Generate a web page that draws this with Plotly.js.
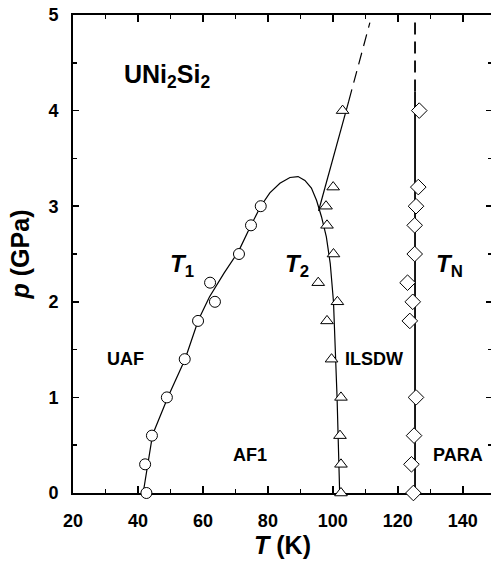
<!DOCTYPE html>
<html>
<head>
<meta charset="utf-8">
<script src="https://cdn.plot.ly/plotly-3.0.1.min.js"></script>
<style>html,body{margin:0;padding:0;overflow:hidden;background:#fff}</style>
</head>
<body>
<div id="chart" style="width:493px;height:570px"></div>
<script>
// T1 data (circles)
const t1T = [42.6, 42.2, 44.3, 48.9, 54.4, 58.5, 62.2, 63.7, 71.1, 74.8, 77.8];
const t1P = [0, 0.3, 0.6, 1.0, 1.4, 1.8, 2.2, 2.0, 2.5, 2.8, 3.0];
// T2 data (triangles)
const t2T = [102.5, 102.5, 102.2, 102.5, 99.6, 98.2, 101.4, 95.5, 100.2, 98.2, 97.9, 100.1, 103.0];
const t2P = [0, 0.3, 0.6, 1.0, 1.4, 1.8, 2.0, 2.2, 2.5, 2.8, 3.0, 3.2, 4.0];
// TN data (diamonds)
const tnT = [124.8, 124.2, 125.0, 125.6, 123.7, 124.6, 123.0, 125.2, 125.2, 125.6, 126.3, 126.6];
const tnP = [0, 0.3, 0.6, 1.0, 1.8, 2.0, 2.2, 2.5, 2.8, 3.0, 3.2, 4.0];
// Phase boundary curve T1 -> T2 (solid)
const curveT = [41.6, 44.5, 49.3, 54.5, 58.6, 62.0, 66.5, 71.0, 74.8, 77.8, 80.6, 83.7, 86.8, 89.3, 91.4, 93.4, 95.0, 96.5, 98.0, 99.2, 100.2, 100.8, 101.3, 101.7, 102.1];
const curveP = [0, 0.61, 1.01, 1.40, 1.81, 2.05, 2.3, 2.53, 2.8, 3.0, 3.14, 3.24, 3.3, 3.31, 3.27, 3.19, 3.06, 2.89, 2.68, 2.4, 2.0, 1.5, 1.0, 0.5, 0];
// Upper T2 line (solid part and dashed extrapolation)
const t2LineT = [95.6, 104.9];
const t2LineP = [2.95, 4.1];
const t2DashT = [104.9, 111.4];
const t2DashP = [4.1, 4.92];
// TN line (solid part and dashed extrapolation)
const tnLineT = [125.3, 125.3];
const tnLineP = [0, 4.2];
const tnDashT = [125.3, 125.3];
const tnDashP = [4.2, 4.93];
const xTicks = [20, 40, 60, 80, 100, 120, 140];
const yTicks = [0, 1, 2, 3, 4, 5];

const FONT = 'Liberation Sans, Arial, Helvetica, sans-serif';
const lineStyle = {color: '#000', width: 1.2};
const dashStyle = {color: '#000', width: 1.2, dash: '12px,7px'};

const traces = [
  {x: curveT, y: curveP, mode: 'lines', line: lineStyle, hoverinfo: 'skip', showlegend: false},
  {x: t2LineT, y: t2LineP, mode: 'lines', line: lineStyle, showlegend: false},
  {x: t2DashT, y: t2DashP, mode: 'lines', line: dashStyle, showlegend: false},
  {x: tnLineT, y: tnLineP, mode: 'lines', line: {color: '#000', width: 1.8}, showlegend: false},
  {x: tnDashT, y: tnDashP, mode: 'lines', line: {color: '#000', width: 1.8, dash: '12px,7px'}, showlegend: false},
  {x: t1T, y: t1P, mode: 'markers', cliponaxis: false, showlegend: false,
   marker: {symbol: 'circle', size: 11, color: '#fff', line: {color: '#000', width: 1}}},
  {x: t2T, y: t2P, mode: 'markers', cliponaxis: false, showlegend: false,
   marker: {symbol: 'triangle-up', size: 11, color: '#fff', line: {color: '#000', width: 1}}},
  {x: tnT, y: tnP, mode: 'markers', cliponaxis: false, showlegend: false,
   marker: {symbol: 'diamond', size: 12, color: '#fff', line: {color: '#000', width: 1}}}
];

const lab = (text, x, y, size) => ({
  text: text, x: x, y: y, xref: 'x', yref: 'y', showarrow: false,
  xanchor: 'center', yanchor: 'middle',
  font: {family: FONT, size: size, color: '#000', weight: 'bold'}
});

const layout = {
  width: 493, height: 570,
  margin: {l: 73, r: 1, t: 15, b: 77},
  paper_bgcolor: '#fff', plot_bgcolor: '#fff',
  font: {family: FONT, color: '#000'},
  xaxis: {
    range: [20, 149], tickvals: xTicks, ticktext: xTicks.map(String),
    ticks: 'inside', ticklen: 7, tickwidth: 1.5, tickcolor: '#000',
    minor: {dtick: 10, tick0: 0, ticks: 'inside', ticklen: 4, tickwidth: 1.5, tickcolor: '#000'},
    showline: true, linewidth: 2, linecolor: '#000', mirror: 'ticks',
    showgrid: false, zeroline: false, layer: 'below traces',
    tickfont: {family: FONT, size: 18, weight: 'bold', color: '#000'},
    ticklabelstandoff: 10,
    title: {text: '<i>T</i> (K)', font: {family: FONT, size: 25, weight: 'bold', color: '#000'}, standoff: 6}
  },
  yaxis: {
    range: [0, 5], tickvals: yTicks, ticktext: yTicks.map(String),
    ticks: 'inside', ticklen: 6, tickwidth: 1.5, tickcolor: '#000',
    minor: {dtick: 0.5, tick0: 0, ticks: 'inside', ticklen: 4, tickwidth: 1.5, tickcolor: '#000'},
    showline: true, linewidth: 2, linecolor: '#000', mirror: 'ticks',
    showgrid: false, zeroline: false, layer: 'below traces',
    tickfont: {family: FONT, size: 18, weight: 'bold', color: '#000'},
    ticklabelstandoff: 9,
    title: {text: '<i>p</i> (GPa)', font: {family: FONT, size: 25, weight: 'bold', color: '#000'}, standoff: 12}
  },
  annotations: [
    lab('UNi<sub>2</sub>Si<sub>2</sub>', 49.0, 4.36, 25),
    lab('<i>T</i><sub>1</sub>', 53.6, 2.38, 24),
    lab('<i>T</i><sub>2</sub>', 88.9, 2.38, 24),
    lab('<i>T</i><sub>N</sub>', 136.0, 2.38, 24),
    lab('UAF', 36.2, 1.40, 18),
    lab('AF1', 74.5, 0.40, 18),
    lab('ILSDW', 112.8, 1.40, 18),
    lab('PARA', 138.5, 0.40, 18)
  ]
};

Plotly.newPlot('chart', traces, layout, {displayModeBar: false, staticPlot: true});
</script>
</body>
</html>
